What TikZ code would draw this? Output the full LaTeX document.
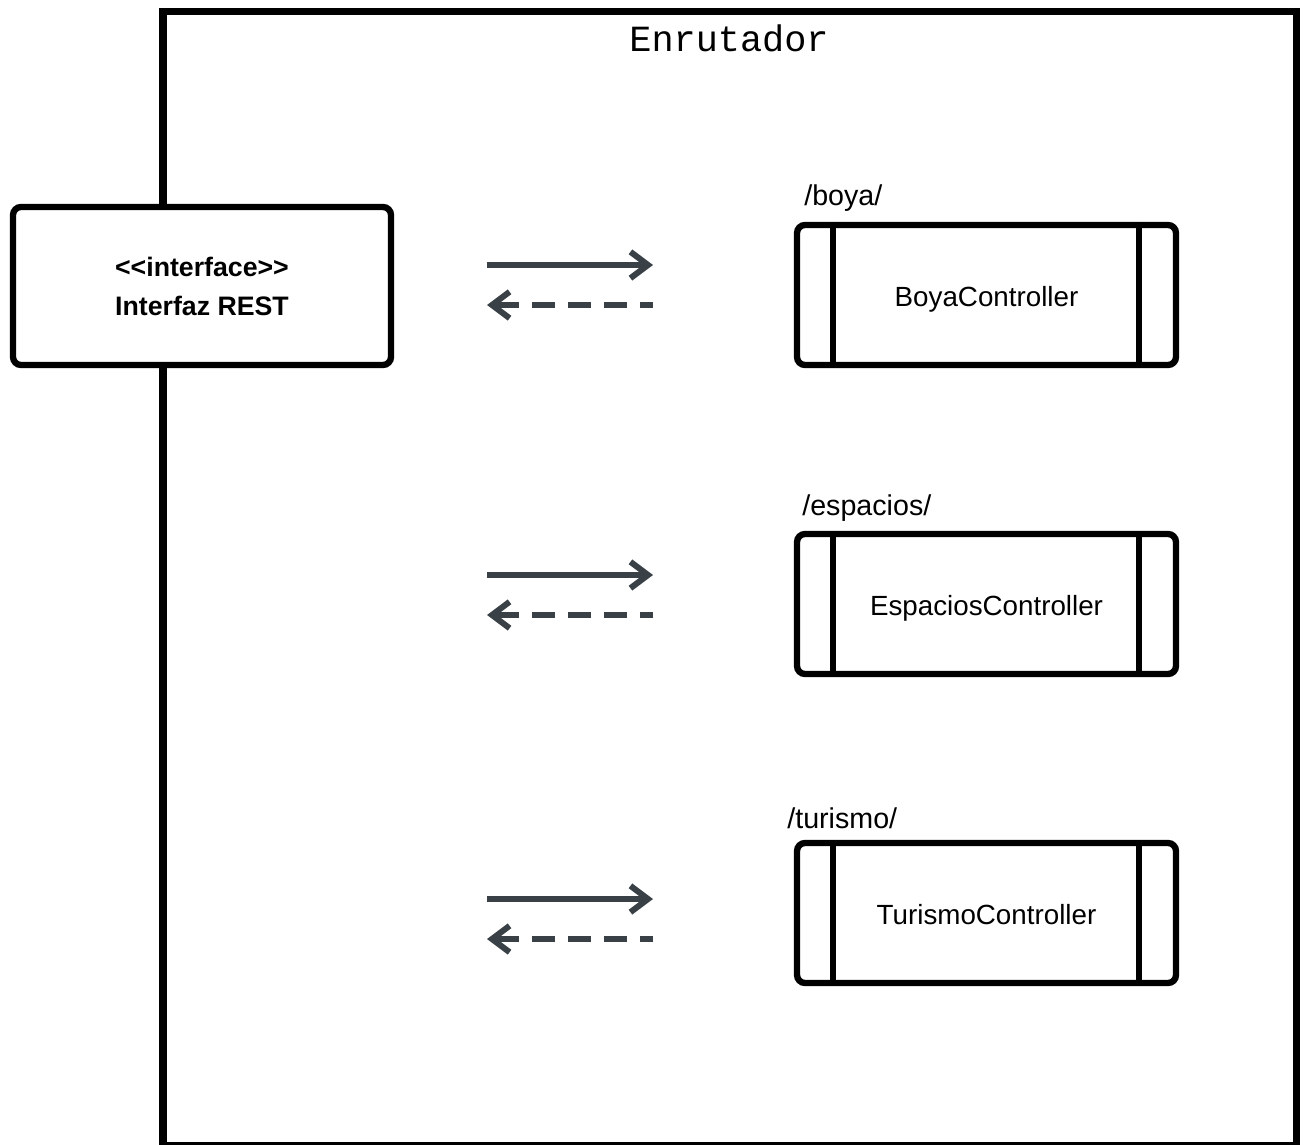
\documentclass[tikz,border=0pt]{standalone}
\usepackage{fontspec}
\setmainfont{Liberation Sans}
\newfontfamily\monofont{Liberation Mono}
\usetikzlibrary{arrows.meta}
\definecolor{arrowgray}{RGB}{58,65,70}
\begin{document}
\begin{tikzpicture}[x=0.02cm,y=-0.02cm,
  routerframe/.style={draw=black,line width=4pt},
  ifacebox/.style={draw=black,fill=white,line width=3.6pt,rounded corners=4.5pt,
    minimum width=7.56cm,minimum height=3.16cm,inner sep=0pt,align=center,
    font=\bfseries\fontsize{15.2}{22.2}\selectfont},
  ctrlbox/.style={draw=black,fill=white,line width=3.6pt,rounded corners=4.5pt,
    minimum width=7.58cm,minimum height=2.8cm,inner sep=0pt,
    text height=13pt,text depth=0pt,font=\fontsize{15.8}{19}\selectfont},
  ctrlbar/.style={draw=black,line width=3.4pt},
  routelabel/.style={anchor=base west,inner sep=0pt,font=\fontsize{16.3}{19}\selectfont},
  request/.style={draw=arrowgray,line width=3.4pt,
    -{Straight Barb[length=10pt,width=15pt]}},
  response/.style={draw=arrowgray,line width=3.4pt,
    dash pattern=on 13.09pt off 7.40pt,dash phase=5.69pt,
    -{Straight Barb[length=10pt,width=15pt]}}]
\useasboundingbox (0,0) rectangle (1304,1145);

% router frame and its title
\draw[routerframe] (163,11.5) rectangle (1296,1145.5);
\node[anchor=base,inner sep=0pt,font=\monofont\fontsize{21}{24}\selectfont]
  (title) at (729,51.5) {Enrutador};

% REST interface
\node[ifacebox] (rest) at (202,286) {{<}{<}interface{>}{>}\\Interfaz REST};

% controllers
\node[ctrlbox] (boya) at (986.5,295) {BoyaController};
\node[ctrlbox] (espacios) at (986.5,604) {EspaciosController};
\node[ctrlbox] (turismo) at (986.5,913) {TurismoController};
\foreach \c in {boya,espacios,turismo}{
  \draw[ctrlbar] ([xshift=0.79cm]\c.north west) -- ([xshift=0.79cm]\c.south west);
  \draw[ctrlbar] ([xshift=-0.80cm]\c.north east) -- ([xshift=-0.80cm]\c.south east);
}

% route labels
\node[routelabel] (lboya) at (804,206) {/boya/};
\node[routelabel] (lespacios) at (802,515) {/espacios/};
\node[routelabel] (lturismo) at (787,828) {/turismo/};

% request / response arrows
\coordinate (r1a) at (487,265); \coordinate (r1b) at (653,265);
\coordinate (s1a) at (653,305); \coordinate (s1b) at (487,305);
\coordinate (r2a) at (487,575); \coordinate (r2b) at (653,575);
\coordinate (s2a) at (653,615); \coordinate (s2b) at (487,615);
\coordinate (r3a) at (487,899); \coordinate (r3b) at (653,899);
\coordinate (s3a) at (653,939); \coordinate (s3b) at (487,939);
\draw[request] (r1a) -- (r1b);
\draw[response] (s1a) -- (s1b);
\draw[request] (r2a) -- (r2b);
\draw[response] (s2a) -- (s2b);
\draw[request] (r3a) -- (r3b);
\draw[response] (s3a) -- (s3b);
\end{tikzpicture}
\end{document}
